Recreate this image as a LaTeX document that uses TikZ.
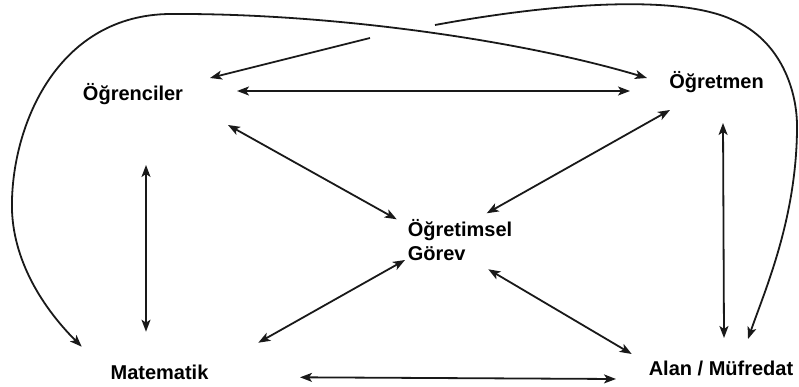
\documentclass[tikz,border=0pt]{standalone}
\usepackage{fontspec}
\setmainfont{Liberation Sans}
\usetikzlibrary{arrows.meta}

\tikzstyle{concept} = [inner sep=0pt, text=black,
                       font=\fontsize{20}{24.4}\selectfont\bfseries]
\tikzstyle{doublearrow} = [line width=1.8pt, draw=black!90,
  {Stealth[length=12pt,width=9pt,inset=3pt]}-{Stealth[length=12pt,width=9pt,inset=3pt]}]
\tikzstyle{arrow} = [line width=1.8pt, draw=black!90,
  -{Stealth[length=12pt,width=9pt,inset=3pt]}]

\begin{document}
\begin{tikzpicture}[x=1pt, y=-1pt]
  \useasboundingbox (0,0) rectangle (799,387);
  %concepts
  \node (ogrenci) [concept] at (133,94.4) {Öğrenciler};
  \node (ogretmen) [concept] at (716.5,82.3) {Öğretmen};
  \node (gorev) [concept, align=left] at (460,240) {Öğretimsel\\Görev};
  \node (matematik) [concept] at (159.5,372) {Matematik};
  \node (alan) [concept] at (721,368) {Alan / Müfredat};
  %connections
  % ogrenci <-> ogretmen
  \draw [doublearrow] ([shift={(104,-3.4)}]ogrenci.center)
    -- ([shift={(-86.5,8.7)}]ogretmen.center);
  % ogrenci <-> gorev
  \draw [doublearrow] ([shift={(95,30.6)}]ogrenci.center)
    -- ([shift={(-63.3,-20.7)}]gorev.center);
  % ogretmen <-> gorev
  \draw [doublearrow] ([shift={(-46.5,27.7)}]ogretmen.center)
    -- ([shift={(26.7,-26.7)}]gorev.center);
  % matematik <-> gorev
  \draw [doublearrow] ([shift={(98.8,-29.3)}]matematik.center)
    -- ([shift={(-55,20)}]gorev.center);
  % alan <-> gorev
  \draw [doublearrow] ([shift={(-89.3,-14)}]alan.center)
    -- ([shift={(28.3,29.3)}]gorev.center);
  % ogrenci <-> matematik
  \draw [doublearrow] ([shift={(13,70.6)}]ogrenci.center)
    -- ([shift={(-13.5,-40.3)}]matematik.center);
  % ogretmen <-> alan
  \draw [doublearrow] ([shift={(6.5,40.7)}]ogretmen.center)
    -- ([shift={(3,-30)}]alan.center);
  % matematik <-> alan
  \draw [doublearrow] ([shift={(140.5,5.3)}]matematik.center)
    -- ([shift={(-105,11)}]alan.center);
  % matematik <-> ogretmen, over the top
  \draw [doublearrow] ([shift={(-77.8,-25.3)}]matematik.center)
    .. controls (40,305) and (10,255) .. (12,200)
    .. controls (14,120) and (60,15) .. (170,14)
    .. controls (330,13) and (520,40) .. ([shift={(-69.5,-4.3)}]ogretmen.center);
  % ogrenci <-> alan, broken where it crosses
  \coordinate (gapl) at (370,38);
  \coordinate (gapr) at (435,25);
  \draw [arrow] (gapl) -- ([shift={(77,-16.4)}]ogrenci.center);
  \draw [arrow] (gapr)
    .. controls (560,2) and (680,-5) .. (733,20)
    .. controls (780,40) and (798,90) .. (797,130)
    .. controls (796,220) and (765,290) .. ([shift={(27,-29)}]alan.center);
\end{tikzpicture}
\end{document}
